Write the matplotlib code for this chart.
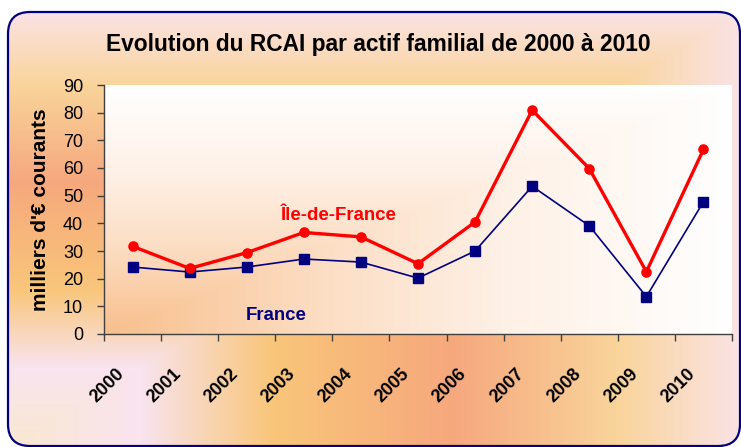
import numpy as np
import matplotlib
matplotlib.use("Agg")
import matplotlib.pyplot as plt
import matplotlib.transforms as mtransforms
from matplotlib.patches import FancyBboxPatch
from matplotlib.colors import to_rgb

plt.rcParams['font.family'] = ['Liberation Sans', 'DejaVu Sans']

years = ['2000', '2001', '2002', '2003', '2004', '2005', '2006', '2007', '2008', '2009', '2010']
idf = [31.7, 23.7, 29.4, 36.7, 35.1, 25.4, 40.5, 80.9, 59.8, 22.5, 66.7]
france = [24.2, 22.4, 24.2, 27.1, 26.0, 20.2, 30.0, 53.4, 39.1, 13.5, 47.8]
yticks = [0, 10, 20, 30, 40, 50, 60, 70, 80, 90]

W, H = 741, 447
fig = plt.figure(figsize=(W / 100, H / 100), dpi=100)
fig.patch.set_facecolor('white')


def interp_stops(t, stops):
    pos = np.array([s[0] for s in stops])
    cols = np.array([to_rgb(s[1]) for s in stops])
    out = np.zeros(t.shape + (3,))
    for c in range(3):
        out[..., c] = np.interp(t, pos, cols[:, c])
    return out

# ---- background frame ----
bg = fig.add_axes([0, 0, 1, 1])
bg.set_xlim(0, W)
bg.set_ylim(H, 0)
bg.axis('off')
fx0, fy0, fx1, fy1 = 8, 12, 740, 446
X, Y = np.meshgrid(np.arange(W) + 0.5, np.arange(H) + 0.5)
t = np.minimum((fx1 - X) / (fx1 - fx0), (Y - fy0) / (fy1 - fy0))
t = np.clip(t, 0, 1)
outer_stops = [(0.0, '#FBE3E6'), (0.17, '#F9D49A'), (0.39, '#F6A87E'),
               (0.56, '#F8BC7A'), (0.64, '#F8C67A'), (0.82, '#F9E4F0'), (1.0, '#F9E8D0')]
img = interp_stops(t, outer_stops)
im = bg.imshow(img, extent=(0, W, H, 0), interpolation='bilinear', zorder=0)
frame = FancyBboxPatch((fx0, fy0), fx1 - fx0, fy1 - fy0,
                       boxstyle='round,pad=0,rounding_size=22',
                       facecolor='none', edgecolor='#000080', linewidth=1.6, zorder=2)
bg.add_patch(frame)
im.set_clip_path(frame)

# ---- plot area ----
px0, py0, px1, py1 = 104, 85, 732, 334
ax = fig.add_axes([px0 / W, 1 - py1 / H, (px1 - px0) / W, (py1 - py0) / H])
n = len(years)
ax.set_xlim(0, n)
ax.set_ylim(0, 90)

U, V = np.meshgrid(np.linspace(0, 1, 300), np.linspace(1, 0, 120))
t2 = np.minimum(1 - U, 1 - V)
plot_stops = [(0.0, '#FFFFFF'), (0.35, '#FEF1E7'), (0.65, '#FCDEC4'), (1.0, '#F8BF8C')]
ax.imshow(interp_stops(t2, plot_stops), extent=(0, n, 0, 90), aspect='auto',
          interpolation='bilinear', zorder=0)

xc = np.arange(n) + 0.5
ax.plot(xc, france, color='#000080', lw=1.2, marker='s', markersize=6.5, zorder=3)
ax.plot(xc, idf, color='#FF0000', lw=2.4, marker='o', markersize=6.6, zorder=4)

ax.text(3.10, 41.2, 'Île-de-France', color='#FF0000', fontsize=13.4, fontweight='bold',
        ha='left', va='baseline', zorder=5)
ax.text(2.49, 5.06, 'France', color='#000080', fontsize=13.4, fontweight='bold',
        ha='left', va='baseline', zorder=5)

for s in ['top', 'right']:
    ax.spines[s].set_visible(False)
for s in ['left', 'bottom']:
    ax.spines[s].set_color('#404040')
    ax.spines[s].set_linewidth(1.0)

ax.set_yticks(yticks)
ax.set_yticklabels([str(v) for v in yticks], fontsize=13)
ax.tick_params(axis='y', direction='out', length=5, width=1, color='#404040', pad=10)

ax.set_xticks(np.arange(n + 1))
ax.set_xticklabels([''] * (n + 1))
ax.set_xticks(xc, minor=True)
ax.set_xticklabels(years, minor=True, rotation=45, ha='right', va='center',
                   rotation_mode='anchor', fontsize=13, fontweight='bold')
ax.tick_params(axis='x', which='major', direction='out', length=5, width=1, color='#404040')
ax.tick_params(axis='x', which='minor', length=0, pad=18)
offset = mtransforms.ScaledTranslation(-11 / 100, -12 / 100, fig.dpi_scale_trans)
for lab in ax.get_xticklabels(minor=True):
    lab.set_transform(lab.get_transform() + offset)

fig.text(378 / W, 1 - 51.5 / H, 'Evolution du RCAI par actif familial de 2000 à 2010',
         ha='center', va='baseline', fontsize=16.4, fontweight='bold')
fig.text(41 / W, 1 - 210 / H, "milliers d'€ courants", rotation=90, ha='center',
         va='center', fontsize=15, fontweight='bold')

fig.savefig('out.png', dpi=100)
